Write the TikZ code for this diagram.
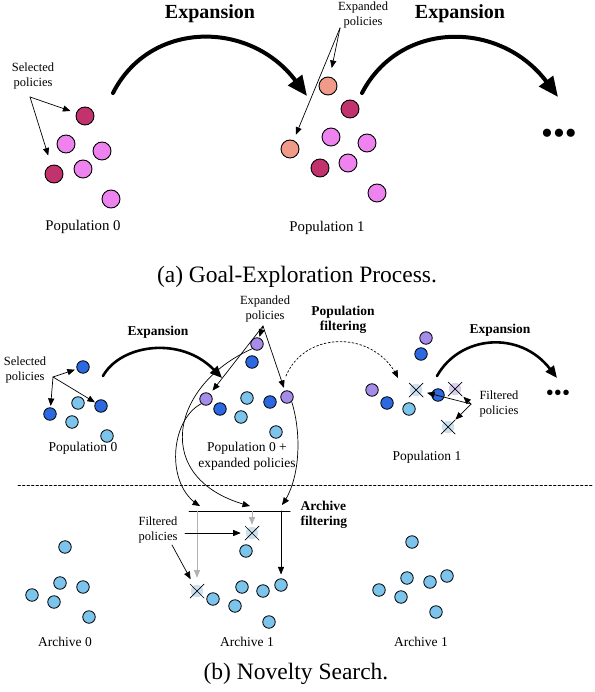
\documentclass[tikz,border=0pt]{standalone}
\usepackage{fontspec}
\setmainfont{Liberation Serif}
\usepackage{tikz}
\usetikzlibrary{arrows,arrows.meta}
\definecolor{magsel}{RGB}{194,51,110}
\definecolor{magpop}{RGB}{238,130,238}
\definecolor{magnew}{RGB}{240,154,138}
\definecolor{bluesel}{RGB}{44,105,225}
\definecolor{bluepop}{RGB}{125,196,236}
\definecolor{bluenew}{RGB}{165,140,232}
\definecolor{bluegone}{RGB}{205,224,238}
\definecolor{purpgone}{RGB}{218,208,236}

\begin{document}
\begin{tikzpicture}[line cap=round,line join=round,>=triangle 45,x=1pt,y=-1pt,
  pa/.style={circle,draw,line width=0.9pt,minimum size=18pt,inner sep=0pt},
  pb/.style={circle,draw,line width=0.8pt,minimum size=12.5pt,inner sep=0pt},
  gone/.style={circle,fill=bluegone,minimum size=12.5pt,inner sep=0pt},
  note/.style={align=center,font=\fontsize{12.5}{14.5}\selectfont},
  lab/.style={align=center,font=\fontsize{13.5}{16}\selectfont},
  laba/.style={font=\fontsize{14.8}{17}\selectfont},
  boldlab/.style={align=center,font=\bfseries\fontsize{13.5}{15.5}\selectfont},
  biglab/.style={font=\bfseries\fontsize{20}{22}\selectfont},
  capt/.style={font=\fontsize{23.5}{26}\selectfont},
  thin arrow/.style={->,line width=0.7pt},
  big arrow/.style={-{Triangle[length=20pt,width=17pt]},line width=4pt},
  mid arrow/.style={-{Triangle[length=12pt,width=10pt]},line width=2.6pt}]
\useasboundingbox (0,0) rectangle (594,692);

\node[biglab] (expA1) at (210,14) {Expansion};
\node[biglab] (expA2) at (460,14) {Expansion};
\node[note] (selA) at (33,76) {Selected\\policies};
\node[note] (expdA) at (363,15) {Expanded\\policies};

\node[pa,fill=magsel] (a01) at (85,116) {};
\node[pa,fill=magpop] (a02) at (66,144) {};
\node[pa,fill=magpop] (a03) at (102,151) {};
\node[pa,fill=magpop] (a04) at (83,169) {};
\node[pa,fill=magsel] (a05) at (54,174) {};
\node[pa,fill=magpop] (a06) at (111,199) {};
\node[laba] (popA0) at (83,227) {Population 0};

\node[pa,fill=magnew] (a11) at (328,86) {};
\node[pa,fill=magsel] (a12) at (350,109) {};
\node[pa,fill=magpop] (a13) at (331,137) {};
\node[pa,fill=magpop] (a14) at (367,143) {};
\node[pa,fill=magnew] (a15) at (290,149) {};
\node[pa,fill=magsel] (a16) at (320,168) {};
\node[pa,fill=magpop] (a17) at (348,163) {};
\node[pa,fill=magpop] (a18) at (377,193) {};
\node[laba] (popA1) at (327,228) {Population 1};
\node[font=\fontsize{34}{36}\selectfont] (dotsA) at (559,137) {•••};

\coordinate (selAo) at (30,97);
\coordinate (expdAo) at (340,28);
\coordinate (goA0) at (113,93);
\coordinate (goA1) at (307,96);
\coordinate (goA2) at (362,93);
\coordinate (goA3) at (558,97);
\draw[thin arrow,shorten >=6pt] (selAo) -- (a01);
\draw[thin arrow,shorten >=10pt] (selAo) -- (a05);
\draw[thin arrow,shorten >=9pt] (expdAo) -- (a11);
\draw[thin arrow,shorten >=6pt] (expdAo) -- (a15);
\draw[big arrow] (goA0) .. controls (150,20) and (250,20) .. (goA1);
\draw[big arrow] (goA2) .. controls (400,20) and (500,20) .. (goA3);

\node[capt] (captA) at (297,277) {(a) Goal-Exploration Process.};

\node[boldlab] (expB1) at (158,332) {Expansion};
\node[note] (selB) at (25,370) {Selected\\policies};
\node[note] (expdB) at (265,309) {Expanded\\policies};
\node[boldlab] (pfilt) at (343,320) {Population\\filtering};
\node[boldlab] (expB2) at (500,330) {Expansion};

\node[pb,fill=bluesel] (b01) at (83,367) {};
\node[pb,fill=bluepop] (b02) at (78,403) {};
\node[pb,fill=bluesel] (b03) at (101,406) {};
\node[pb,fill=bluesel] (b04) at (50,414) {};
\node[pb,fill=bluepop] (b05) at (72,422) {};
\node[pb,fill=bluepop] (b06) at (107,436) {};
\node[lab] (popB0) at (83,448) {Population 0};

\node[pb,fill=bluenew] (m1) at (257,344) {};
\node[pb,fill=bluesel] (m2) at (252,362) {};
\node[pb,fill=bluenew] (m3) at (206,399) {};
\node[pb,fill=bluesel] (m4) at (220,409) {};
\node[pb,fill=bluepop] (m5) at (247,398) {};
\node[pb,fill=bluepop] (m6) at (241,417) {};
\node[pb,fill=bluesel] (m7) at (270,402) {};
\node[pb,fill=bluenew] (m8) at (287,397) {};
\node[pb,fill=bluepop] (m9) at (276,432) {};
\node[lab] (popB0x) at (247,456) {Population 0 +\\expanded policies};

\node[pb,fill=bluenew] (p1) at (426,338) {};
\node[pb,fill=bluesel] (p2) at (421,354) {};
\node[pb,fill=bluenew] (p3) at (372,390) {};
\node[pb,fill=bluesel] (p4) at (387,403) {};
\node[pb,fill=bluepop] (p5) at (409,409) {};
\node[gone] (px1) at (416,390) {};
\node[pb,fill=bluesel] (p6) at (438,395) {};
\node[gone,fill=purpgone] (px2) at (455,389) {};
\node[gone] (px3) at (448,427) {};
\node[note,anchor=west,align=left] (filtB) at (476,404) {Filtered\\policies};
\node[lab] (popB1) at (427,457) {Population 1};
\node[font=\fontsize{23}{25}\selectfont] (dotsB) at (558,395) {•••};

\coordinate (selBo) at (53,377);
\coordinate (expdBo) at (263,326);
\coordinate (filtBo) at (471,404);
\coordinate (goB0) at (103,376);
\coordinate (goB1) at (222,378);
\coordinate (goB2) at (437,376);
\coordinate (goB3) at (557,378);
\coordinate (pf0) at (286,376);
\coordinate (pf1) at (398,378);
\draw[thin arrow,shorten >=2pt] (selBo) -- (b01);
\draw[thin arrow,shorten >=0.5pt] (selBo) -- (b03);
\draw[thin arrow,shorten >=1.5pt] (selBo) -- (b04);
\draw[thin arrow,shorten >=1pt] (expdBo) -- (m1);
\draw[thin arrow,shorten >=4pt] (expdBo) -- (m3);
\draw[thin arrow,shorten >=3pt] (expdBo) -- (m8);
\draw[thin arrow,shorten >=5pt] (filtBo) -- (px1);
\draw[thin arrow,shorten >=5pt] (filtBo) -- (px2);
\draw[thin arrow,shorten >=4pt] (filtBo) -- (px3);
\draw[mid arrow] (goB0) .. controls (120,345) and (180,335) .. (goB1);
\draw[mid arrow] (goB2) .. controls (460,335) and (520,330) .. (goB3);
\draw[thin arrow,dash pattern=on 2pt off 2pt] (pf0) .. controls (305,330) and (375,330) .. (pf1);

\coordinate (sep0) at (18,485);
\coordinate (sep1) at (592,485);
\draw[line width=0.7pt,dash pattern=on 2.5pt off 2pt] (sep0) -- (sep1);

\coordinate (bar0) at (189,511);
\coordinate (bar1) at (290,511);
\coordinate (in1) at (200,506);
\coordinate (in2) at (250,506);
\coordinate (in3) at (282,505);
\node[boldlab,anchor=west,align=left] (afilt) at (297,515) {Archive\\filtering};
\draw[line width=1pt] (bar0) -- (bar1);
\draw[thin arrow] (m3.south west) .. controls (170,420) and (165,485) .. (in1);
\draw[thin arrow] (m1.south west) .. controls (170,385) and (150,480) .. (in2);
\draw[thin arrow] (m8.south east) .. controls (302,435) and (300,480) .. (in3);

\node[pb,fill=bluepop] (r01) at (65,547) {};
\node[pb,fill=bluepop] (r02) at (60,583) {};
\node[pb,fill=bluepop] (r03) at (83,587) {};
\node[pb,fill=bluepop] (r04) at (32,595) {};
\node[pb,fill=bluepop] (r05) at (54,602) {};
\node[pb,fill=bluepop] (r06) at (89,617) {};
\node[lab] (arc0) at (65,642) {Archive 0};

\node[gone] (sx1) at (252,533) {};
\node[pb,fill=bluepop] (s1) at (246,551) {};
\node[gone] (sx2) at (197,591) {};
\node[pb,fill=bluepop] (s2) at (213,599) {};
\node[pb,fill=bluepop] (s3) at (235,606) {};
\node[pb,fill=bluepop] (s4) at (242,587) {};
\node[pb,fill=bluepop] (s5) at (263,591) {};
\node[pb,fill=bluepop] (s6) at (281,585) {};
\node[pb,fill=bluepop] (s7) at (269,622) {};
\node[lab] (arc1) at (247,642) {Archive 1};
\node[note] (filtA) at (158,530) {Filtered\\policies};

\node[pb,fill=bluepop] (t1) at (412,542) {};
\node[pb,fill=bluepop] (t2) at (407,578) {};
\node[pb,fill=bluepop] (t3) at (430,582) {};
\node[pb,fill=bluepop] (t4) at (447,576) {};
\node[pb,fill=bluepop] (t5) at (379,590) {};
\node[pb,fill=bluepop] (t6) at (401,597) {};
\node[pb,fill=bluepop] (t7) at (436,612) {};
\node[lab] (arc1b) at (421,642) {Archive 1};

\foreach \n in {px1,px2,px3,sx1,sx2}
  \draw[line width=0.7pt] (\n) +(-7,-7) -- +(7,7) +(-7,7) -- +(7,-7);

\coordinate (filtAo) at (185,533);
\coordinate (filtAp) at (172,545);
\draw[thin arrow,black!30,shorten >=7pt] (bar0 -| sx2) -- (sx2);
\draw[thin arrow,black!30,shorten >=2pt] (bar0 -| sx1) -- (sx1);
\draw[thin arrow,shorten >=4pt] (bar0 -| s6) -- (s6);
\draw[thin arrow,shorten >=5pt] (filtAo) -- (sx1);
\draw[thin arrow,shorten >=7pt] (filtAp) -- (sx2);

\node[capt] (captB) at (296,674) {(b) Novelty Search.};
\end{tikzpicture}
\end{document}
